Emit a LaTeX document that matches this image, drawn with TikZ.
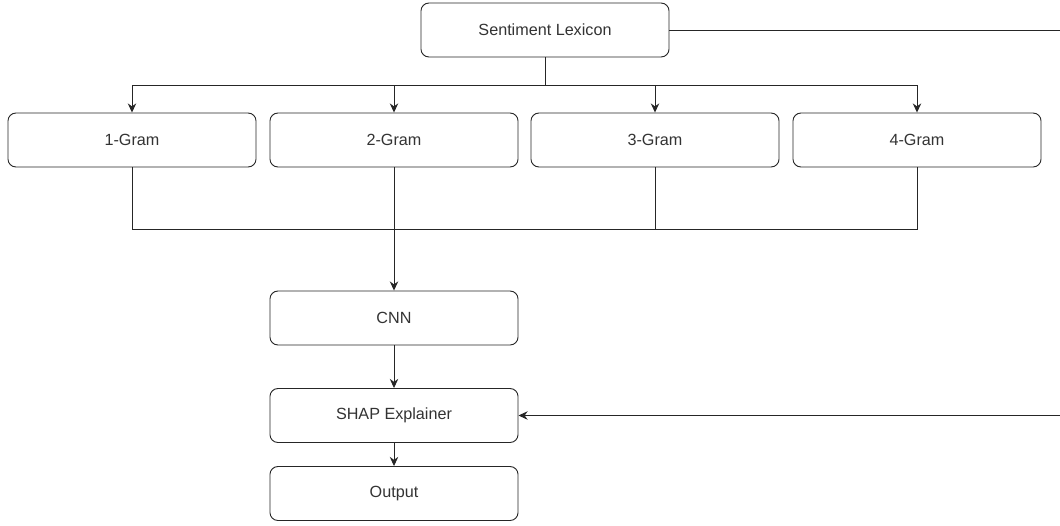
\documentclass[tikz,border=0pt]{standalone}
\usepackage{fontspec}
\setmainfont{Liberation Sans}
\usepackage{tikz}
\usetikzlibrary{arrows.meta}

\tikzset{
	box/.style={draw=black!85, line width=0.65pt, rounded corners=0.2cm, fill=white,
		minimum width=6.2cm, minimum height=1.35cm, text=black!80,
		font=\fontsize{11.5}{13}\selectfont},
	link/.style={draw=black!85, line width=0.65pt}
}

\begin{document}
\begin{tikzpicture}[>={Stealth[length=6.5pt, width=6pt]}, x=0.025cm, y=-0.025cm]
	\useasboundingbox (0, 0) rectangle (1060, 526);

	\node[box] (lex) at (545, 30) {Sentiment Lexicon};

	\node[box] (g1) at (132, 140) {1-Gram};
	\node[box] (g2) at (394, 140) {2-Gram};
	\node[box] (g3) at (655, 140) {3-Gram};
	\node[box] (g4) at (917, 140) {4-Gram};

	\node[box] (cnn) at (394, 318) {CNN};
	\node[box] (shap) at (394, 415.5) {SHAP Explainer};
	\node[box] (out) at (394, 493.5) {Output};

	\coordinate (split) at (545, 85);
	\coordinate (merge) at (394, 229);
	\coordinate (edgeA) at (1060, 30);
	\coordinate (edgeB) at (1060, 415.5);

	% lexicon to the n-grams
	\draw[link] (lex) -- (split);
	\foreach \g in {g1, g2, g3, g4}
		\draw[link, ->] (split) -| (\g);

	% n-grams into the CNN
	\foreach \g in {g1, g3, g4}
		\draw[link] (\g) |- (merge);
	\draw[link, ->] (g2) -- (cnn);

	\draw[link, ->] (cnn) -- (shap);
	\draw[link, ->] (shap) -- (out);

	% lexicon to the explainer
	\draw[link] (lex) -- (edgeA);
	\draw[link, ->] (edgeB) -- (shap);
\end{tikzpicture}
\end{document}
